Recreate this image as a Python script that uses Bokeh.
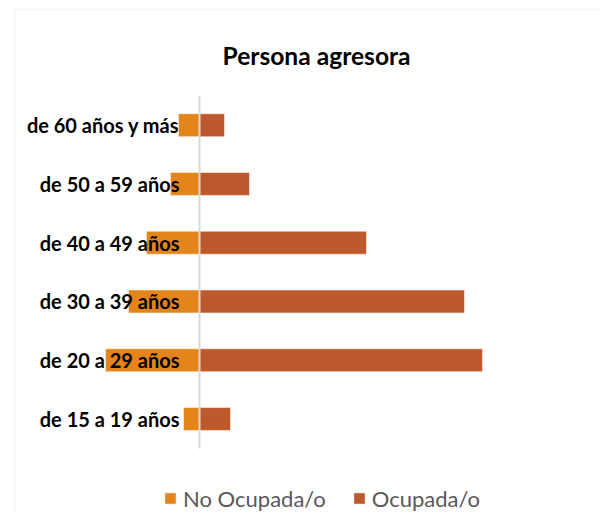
from bokeh.plotting import figure
from bokeh.models import Range1d, ColumnDataSource, Label, Legend, LegendItem, BoxAnnotation
from bokeh.core.properties import value
from bokeh.embed import file_html
from bokeh.resources import INLINE

# ---- data ----
categories = ["de 15 a 19 años", "de 20 a 29 años", "de 30 a 39 años",
              "de 40 a 49 años", "de 50 a 59 años", "de 60 años y más"]
no_ocupada = [16, 94, 71, 53, 29, 21]
ocupada = [31, 283, 265, 167, 50, 25]
series_names = ["No Ocupada/o", "Ocupada/o"]
title_text = "Persona agresora"

# ---- layout constants (pixels) ----
W, H = 599, 513
ZERO_PX = 199          # canvas x of the zero line
ROW_PX = 58.76         # distance between categories
FIRST_ROW_PX = 418.5   # canvas y (from top) of first category centre

COL_NO = "#E5841A"
COL_OC = "#BE592E"

p = figure(width=W, height=H, output_backend="svg", toolbar_location=None,
           x_range=Range1d(-ZERO_PX, W - ZERO_PX),
           y_range=Range1d(-(H - FIRST_ROW_PX) / ROW_PX, FIRST_ROW_PX / ROW_PX),
           min_border=0, x_axis_type=None, y_axis_type=None)
p.outline_line_color = None
p.background_fill_color = "white"
p.border_fill_color = "white"

ys = list(range(len(categories)))
src = ColumnDataSource(dict(
    y=ys,
    cat=categories,
    neg=[-v for v in no_ocupada],
    occ=ocupada,
))

r_no = p.hbar(y="y", left="neg", right=0, height=0.39, source=src,
              fill_color=COL_NO, line_color="white", line_width=0.5)
r_oc = p.hbar(y="y", left=0, right="occ", height=0.39, source=src,
              fill_color=COL_OC, line_color="white", line_width=0.5)

p.segment(x0=0, y0=-0.5, x1=0, y1=len(categories) - 0.5,
          line_color="#D9D9D9", line_width=2)

p.text(x=0, y="y", text="cat", source=src, x_offset=-20,
       text_align="right", text_baseline="middle",
       text_font=value("Lato"), text_font_style="bold",
       text_font_size="20px", text_color="black")

# chart border (top & left visible)
p.add_layout(BoxAnnotation(left=14, right=W + 50, top=H - 9, bottom=-50,
                           left_units="screen", right_units="screen",
                           top_units="screen", bottom_units="screen",
                           fill_alpha=0, line_color="#D9D9D9", line_width=2))

p.add_layout(Label(x=316, y=H - 55, x_units="screen", y_units="screen",
                   text=title_text, text_align="center", text_baseline="alphabetic",
                   text_font="Lato", text_font_style="bold",
                   text_font_size="24.6px", text_color="black"))

legend = Legend(items=[LegendItem(label=series_names[0], renderers=[r_no]),
                       LegendItem(label=series_names[1], renderers=[r_oc])],
                orientation="horizontal", location=(163, 1.5),
                glyph_width=14, glyph_height=14, label_standoff=6,
                spacing=26, padding=0, margin=0,
                border_line_color=None, background_fill_alpha=0,
                label_text_font="Lato", label_text_font_size="22px",
                label_text_color="#595959")
p.add_layout(legend)

open("out.html", "w").write(file_html(p, INLINE))
